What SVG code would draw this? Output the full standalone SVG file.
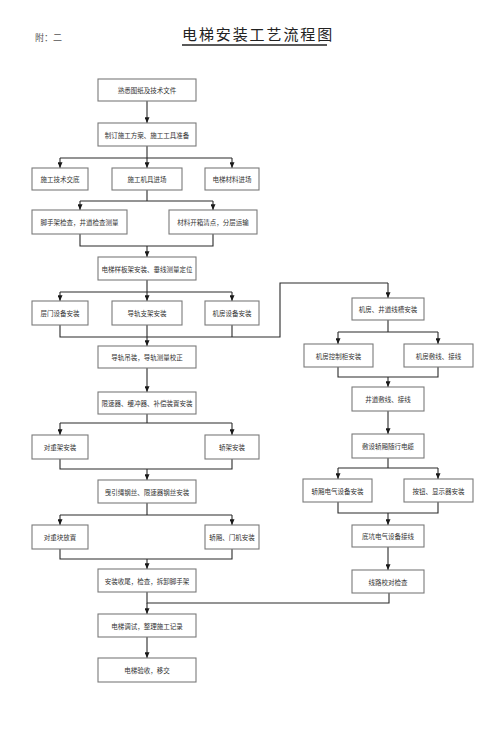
<svg xmlns="http://www.w3.org/2000/svg" width="500" height="730" viewBox="0 0 500 730">
<style>
  .bx { fill: #ffffff; stroke: #7a7a7a; stroke-width: 1.1; }
  .t { font-family: "Noto Sans CJK SC", "Liberation Sans", sans-serif; font-size: 6.5px; fill: #333333; text-anchor: middle; dominant-baseline: central; }
  .ln { fill: none; stroke: #2a2a2a; stroke-width: 1.1; }
  .ttl { font-family: "Noto Sans CJK SC", sans-serif; font-size: 15px; fill: #222222; letter-spacing: 1.9px; }
  .att { font-family: "Noto Sans CJK SC", sans-serif; font-size: 9px; fill: #555555; }
</style>
<defs>
  <marker id="ah" viewBox="0 0 7 6" refX="7" refY="3" markerWidth="6" markerHeight="5" markerUnits="userSpaceOnUse" orient="auto">
    <path d="M0,0 L7,3 L0,6 z" fill="#1a1a1a"/>
  </marker>
</defs>
<rect width="500" height="730" fill="#ffffff"/>

<g id="header">
  <text class="att" x="35" y="41">附：二</text>
  <text class="ttl" x="182" y="40">电梯安装工艺流程图</text>
  <line x1="182" y1="45" x2="327" y2="45" stroke="#222222" stroke-width="1.3"/>
</g>

<g id="connectors">
  <!-- box1 -> box2 -->
  <path class="ln" d="M147,101 V123" marker-end="url(#ah)"/>
  <!-- box2 -> row3 -->
  <path class="ln" d="M147,146 V158 M60,158 H232"/>
  <path class="ln" d="M60,158 V168" marker-end="url(#ah)"/>
  <path class="ln" d="M147,158 V168" marker-end="url(#ah)"/>
  <path class="ln" d="M232,158 V168" marker-end="url(#ah)"/>
  <!-- row3 mid -> row4 -->
  <path class="ln" d="M147,190 V201 M80,201 H213"/>
  <path class="ln" d="M80,201 V210" marker-end="url(#ah)"/>
  <path class="ln" d="M213,201 V210" marker-end="url(#ah)"/>
  <!-- row4 -> box5 -->
  <path class="ln" d="M80,234 V246 H213 V234"/>
  <path class="ln" d="M147,246 V257" marker-end="url(#ah)"/>
  <!-- box5 -> row6 -->
  <path class="ln" d="M147,280 V292 M60,292 H232"/>
  <path class="ln" d="M60,292 V301" marker-end="url(#ah)"/>
  <path class="ln" d="M147,292 V301" marker-end="url(#ah)"/>
  <path class="ln" d="M232,292 V301" marker-end="url(#ah)"/>
  <!-- row6 merge -> box7 and right branch -->
  <path class="ln" d="M60,325 V337 H280 V283 H388 M147,325 V337 M232,325 V337"/>
  <path class="ln" d="M388,283 V298" marker-end="url(#ah)"/>
  <path class="ln" d="M147,337 V346" marker-end="url(#ah)"/>
  <!-- box7 -> box8 -->
  <path class="ln" d="M147,368 V392" marker-end="url(#ah)"/>
  <!-- box8 -> row9 -->
  <path class="ln" d="M147,414 V423 M60,423 H232"/>
  <path class="ln" d="M60,423 V435" marker-end="url(#ah)"/>
  <path class="ln" d="M232,423 V435" marker-end="url(#ah)"/>
  <!-- row9 -> box10 -->
  <path class="ln" d="M60,459 V469 H232 V459"/>
  <path class="ln" d="M147,469 V480" marker-end="url(#ah)"/>
  <!-- box10 -> row11 -->
  <path class="ln" d="M147,503 V515 M60,515 H232"/>
  <path class="ln" d="M60,515 V525" marker-end="url(#ah)"/>
  <path class="ln" d="M232,515 V525" marker-end="url(#ah)"/>
  <!-- row11 -> box12 -->
  <path class="ln" d="M60,549 V559 H232 V549"/>
  <path class="ln" d="M147,559 V569" marker-end="url(#ah)"/>
  <!-- box12 + R7 -> box13 -->
  <path class="ln" d="M147,592 V603 H389 V593"/>
  <path class="ln" d="M147,603 V614" marker-end="url(#ah)"/>
  <!-- box13 -> box14 -->
  <path class="ln" d="M147,637 V658" marker-end="url(#ah)"/>

  <!-- right column -->
  <path class="ln" d="M388,320 V332 M338,332 H438"/>
  <path class="ln" d="M338,332 V344" marker-end="url(#ah)"/>
  <path class="ln" d="M438,332 V344" marker-end="url(#ah)"/>
  <path class="ln" d="M338,367 V377 H438 V367"/>
  <path class="ln" d="M388,377 V387" marker-end="url(#ah)"/>
  <path class="ln" d="M388,411 V434" marker-end="url(#ah)"/>
  <path class="ln" d="M388,458 V468 M338,468 H438"/>
  <path class="ln" d="M338,468 V479" marker-end="url(#ah)"/>
  <path class="ln" d="M438,468 V479" marker-end="url(#ah)"/>
  <path class="ln" d="M338,502 V513 H438 V502"/>
  <path class="ln" d="M388,513 V525" marker-end="url(#ah)"/>
  <path class="ln" d="M388,547 V570" marker-end="url(#ah)"/>
</g>

<g id="n1"><rect class="bx" x="98" y="79" width="98" height="22"/><text class="t" x="147" y="90">熟悉图纸及技术文件</text></g>
<g id="n2"><rect class="bx" x="98" y="123" width="98" height="23"/><text class="t" x="147" y="134.5">制订施工方案、施工工具准备</text></g>
<g id="n3a"><rect class="bx" x="32" y="168" width="56" height="22"/><text class="t" x="60" y="179">施工技术交底</text></g>
<g id="n3b"><rect class="bx" x="112" y="168" width="70" height="22"/><text class="t" x="147" y="179">施工机具进场</text></g>
<g id="n3c"><rect class="bx" x="205" y="168" width="54" height="22"/><text class="t" x="232" y="179">电梯材料进场</text></g>
<g id="n4a"><rect class="bx" x="32" y="210" width="95" height="24"/><text class="t" x="79.5" y="222">脚手架检查，井道检查测量</text></g>
<g id="n4b"><rect class="bx" x="169" y="210" width="88" height="24"/><text class="t" x="213" y="222">材料开箱清点，分层运输</text></g>
<g id="n5"><rect class="bx" x="98" y="257" width="98" height="23"/><text class="t" x="147" y="268.5">电梯样板架安装、垂线测量定位</text></g>
<g id="n6a"><rect class="bx" x="32" y="301" width="56" height="24"/><text class="t" x="60" y="313">层门设备安装</text></g>
<g id="n6b"><rect class="bx" x="112" y="301" width="70" height="24"/><text class="t" x="147" y="313">导轨支架安装</text></g>
<g id="n6c"><rect class="bx" x="205" y="301" width="54" height="24"/><text class="t" x="232" y="313">机房设备安装</text></g>
<g id="n7"><rect class="bx" x="98" y="346" width="98" height="22"/><text class="t" x="147" y="357">导轨吊装，导轨测量校正</text></g>
<g id="n8"><rect class="bx" x="98" y="392" width="98" height="22"/><text class="t" x="147" y="403">限速器、缓冲器、补偿装置安装</text></g>
<g id="n9a"><rect class="bx" x="32" y="435" width="56" height="24"/><text class="t" x="60" y="447">对重架安装</text></g>
<g id="n9b"><rect class="bx" x="205" y="435" width="54" height="24"/><text class="t" x="232" y="447">轿架安装</text></g>
<g id="n10"><rect class="bx" x="98" y="480" width="98" height="23"/><text class="t" x="147" y="491.5">曳引绳钢丝、限速器钢丝安装</text></g>
<g id="n11a"><rect class="bx" x="32" y="525" width="56" height="24"/><text class="t" x="60" y="537">对重块放置</text></g>
<g id="n11b"><rect class="bx" x="205" y="525" width="54" height="24"/><text class="t" x="232" y="537">轿厢、门机安装</text></g>
<g id="n12"><rect class="bx" x="98" y="569" width="98" height="23"/><text class="t" x="147" y="580.5">安装收尾，检查，拆卸脚手架</text></g>
<g id="n13"><rect class="bx" x="98" y="614" width="98" height="23"/><text class="t" x="147" y="625.5">电梯调试，整理施工记录</text></g>
<g id="n14"><rect class="bx" x="98" y="658" width="98" height="24"/><text class="t" x="147" y="670">电梯验收，移交</text></g>

<g id="r1"><rect class="bx" x="352" y="298" width="72" height="22"/><text class="t" x="388" y="309">机房、井道线槽安装</text></g>
<g id="r2a"><rect class="bx" x="304" y="344" width="69" height="23"/><text class="t" x="338.5" y="355.5">机房控制柜安装</text></g>
<g id="r2b"><rect class="bx" x="404" y="344" width="69" height="23"/><text class="t" x="438.5" y="355.5">机房敷线、接线</text></g>
<g id="r3"><rect class="bx" x="352" y="387" width="72" height="24"/><text class="t" x="388" y="399">井道敷线、接线</text></g>
<g id="r4"><rect class="bx" x="352" y="434" width="72" height="24"/><text class="t" x="388" y="446">敷设轿厢随行电缆</text></g>
<g id="r5a"><rect class="bx" x="303" y="479" width="69" height="23"/><text class="t" x="337.5" y="490.5">轿厢电气设备安装</text></g>
<g id="r5b"><rect class="bx" x="404" y="479" width="69" height="23"/><text class="t" x="438.5" y="490.5">按钮、显示器安装</text></g>
<g id="r6"><rect class="bx" x="352" y="525" width="72" height="22"/><text class="t" x="388" y="536">底坑电气设备接线</text></g>
<g id="r7"><rect class="bx" x="352" y="570" width="72" height="23"/><text class="t" x="388" y="581.5">线路校对检查</text></g>
</svg>
